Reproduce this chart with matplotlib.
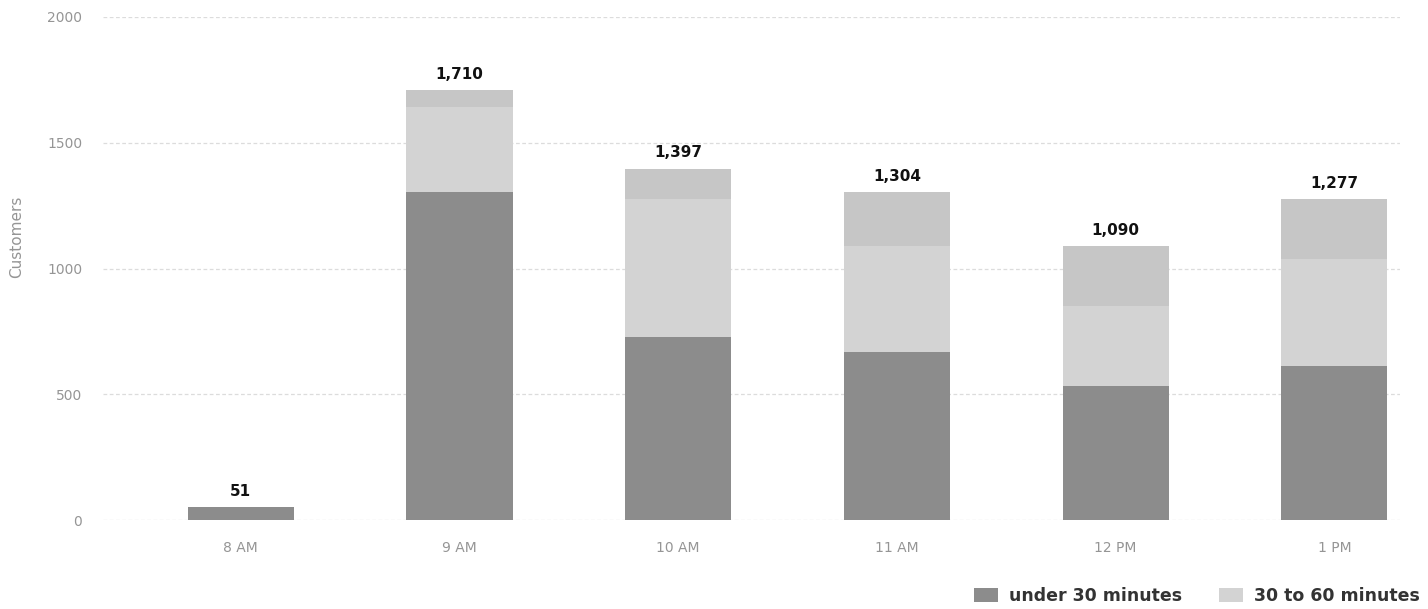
import numpy
import matplotlib
matplotlib.use("Agg")
import matplotlib.pyplot as plt
from matplotlib.patches import Patch

hours = ["8 AM", "9 AM", "10 AM", "11 AM", "12 PM", "1 PM"]
under_30 = [51, 1304, 728, 668, 533, 612]
from_30_to_60 = [0, 338, 548, 421, 318, 426]
over_60 = [0, 68, 121, 215, 239, 239]

def main():
    x = numpy.arange(len(hours))
    totals = numpy.array(under_30) + numpy.array(from_30_to_60) + numpy.array(over_60)

    fig = plt.figure(figsize = (14.28, 6.09), dpi = 100)
    ax = fig.add_axes([0.0721, 0.1461, 0.9083, 0.826])

    width = 0.485
    ax.bar(x, under_30, width = width, color = "#8c8c8c", zorder = 2)
    ax.bar(x, from_30_to_60, width = width, bottom = under_30,
           color = "#d3d3d3", zorder = 2)
    ax.bar(x, over_60, width = width,
           bottom = numpy.array(under_30) + numpy.array(from_30_to_60),
           color = "#c6c6c6", zorder = 2)

    for xi, total in zip(x, totals):
        ax.annotate("{:,}".format(total), (xi, total), xytext = (0, 6),
                    textcoords = "offset points", ha = "center", va = "bottom",
                    fontsize = 11, fontweight = "bold", color = "#111111")

    ax.set_xlim(-0.63, 5.30)
    ax.set_ylim(0, 2000)
    ax.set_yticks([0, 500, 1000, 1500, 2000])
    ax.set_xticks(x)
    ax.set_xticklabels(hours)
    ax.tick_params(axis = "both", length = 0, labelsize = 10,
                   labelcolor = "#959595", pad = 15)
    ax.grid(axis = "y", color = "#dcdcdc", linewidth = 0.9,
            linestyle = (0, (3, 2)), zorder = 0)
    for side in ax.spines.values():
        side.set_visible(False)

    ax.set_ylabel("Customers", fontsize = 11, color = "#959595")
    ax.yaxis.set_label_coords(-0.061, 0.563)

    handles = [Patch(facecolor = "#8c8c8c", edgecolor = "none"),
               Patch(facecolor = "#d3d3d3", edgecolor = "none")]
    leg = fig.legend(handles, ["under 30 minutes", "30 to 60 minutes"],
                     loc = "center left", bbox_to_anchor = (965 / 1428, 1 - 596 / 609),
                     ncol = 2, frameon = False, borderpad = 0,
                     handlelength = 1.4, handleheight = 0.9, handletextpad = 0.65,
                     columnspacing = 2.1,
                     prop = {"size": 12.5, "weight": "bold"})
    for text in leg.get_texts():
        text.set_color("#333333")

    fig.savefig("out.png", dpi = 100)
    plt.close(fig)

if __name__ == "__main__":
    main()
